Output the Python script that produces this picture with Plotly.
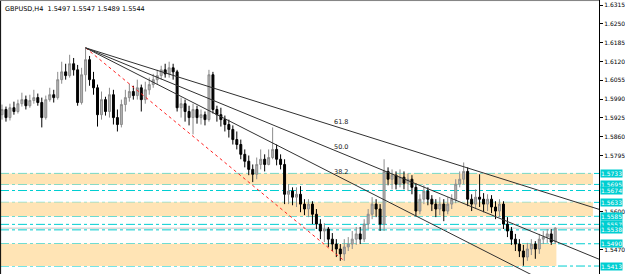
import plotly.graph_objects as go

# ---------------- data (GBPUSD H4) ----------------
bar_index = list(range(140))
open_ = [1.5936,1.5954,1.5926,1.5960,1.5947,1.5974,1.5988,1.5967,1.5985,1.5995,
         1.5978,1.5926,1.5988,1.6005,1.5995,1.6057,1.6084,1.6071,1.6112,1.6091,
         1.5978,1.6074,1.6126,1.6057,1.6029,1.5936,1.5988,1.5947,1.6005,1.5926,
         1.5902,1.5971,1.5995,1.6016,1.6002,1.6029,1.5988,1.6022,1.6040,1.6057,
         1.6071,1.6091,1.6077,1.6098,1.6084,1.5960,1.5974,1.5947,1.5926,1.5954,
         1.5926,1.5936,1.5919,1.6074,1.5954,1.5936,1.5919,1.5902,1.5885,1.5850,
         1.5833,1.5799,1.5775,1.5747,1.5730,1.5764,1.5782,1.5764,1.5788,1.5816,
         1.5782,1.5764,1.5661,1.5672,1.5651,1.5661,1.5627,1.5610,1.5627,1.5592,
         1.5558,1.5534,1.5541,1.5506,1.5489,1.5472,1.5455,1.5479,1.5489,1.5506,
         1.5524,1.5506,1.5558,1.5592,1.5627,1.5610,1.5558,1.5740,1.5713,1.5727,
         1.5696,1.5720,1.5699,1.5713,1.5685,1.5603,1.5644,1.5672,1.5644,1.5627,
         1.5610,1.5627,1.5603,1.5627,1.5644,1.5696,1.5713,1.5740,1.5644,1.5627,
         1.5651,1.5644,1.5627,1.5644,1.5617,1.5603,1.5627,1.5558,1.5534,1.5506,
         1.5489,1.5465,1.5444,1.5472,1.5489,1.5472,1.5506,1.5513,1.5524,1.5497]
high = [1.5971,1.5964,1.5974,1.5981,1.5988,1.6012,1.6002,1.6005,1.6022,1.6009,
        1.5995,1.6002,1.6029,1.6022,1.6084,1.6119,1.6112,1.6143,1.6132,1.6108,
        1.6098,1.6167,1.6139,1.6084,1.6040,1.6016,1.5998,1.6029,1.6022,1.5954,
        1.5988,1.6022,1.6043,1.6036,1.6057,1.6040,1.6050,1.6064,1.6077,1.6091,
        1.6105,1.6112,1.6119,1.6112,1.6091,1.5995,1.5988,1.5967,1.5974,1.5967,
        1.5954,1.5947,1.6091,1.6084,1.5967,1.5960,1.5933,1.5919,1.5899,1.5878,
        1.5850,1.5816,1.5795,1.5764,1.5788,1.5816,1.5799,1.5816,1.5892,1.5833,
        1.5799,1.5782,1.5696,1.5685,1.5685,1.5689,1.5644,1.5644,1.5637,1.5610,
        1.5575,1.5561,1.5548,1.5527,1.5506,1.5489,1.5506,1.5513,1.5534,1.5548,
        1.5548,1.5575,1.5610,1.5651,1.5644,1.5627,1.5782,1.5754,1.5747,1.5740,
        1.5747,1.5740,1.5733,1.5727,1.5699,1.5661,1.5692,1.5685,1.5658,1.5644,
        1.5651,1.5644,1.5651,1.5661,1.5713,1.5740,1.5771,1.5754,1.5661,1.5678,
        1.5730,1.5665,1.5661,1.5658,1.5637,1.5644,1.5637,1.5582,1.5548,1.5524,
        1.5506,1.5486,1.5493,1.5506,1.5499,1.5524,1.5534,1.5541,1.5541,1.5547]
low = [1.5919,1.5912,1.5916,1.5936,1.5940,1.5964,1.5954,1.5960,1.5974,1.5967,
       1.5892,1.5919,1.5981,1.5978,1.5988,1.6043,1.6057,1.6064,1.6071,1.5967,
       1.5971,1.6016,1.6036,1.6005,1.5895,1.5919,1.5933,1.5926,1.5902,1.5878,
       1.5892,1.5947,1.5981,1.5988,1.5988,1.5947,1.5974,1.6005,1.6029,1.6040,
       1.6057,1.6064,1.6064,1.6057,1.5947,1.5926,1.5912,1.5899,1.5868,1.5905,
       1.5902,1.5899,1.5912,1.5940,1.5912,1.5895,1.5878,1.5857,1.5833,1.5816,
       1.5782,1.5754,1.5727,1.5703,1.5713,1.5747,1.5740,1.5761,1.5782,1.5761,
       1.5747,1.5627,1.5627,1.5623,1.5617,1.5599,1.5589,1.5582,1.5558,1.5541,
       1.5506,1.5496,1.5479,1.5465,1.5444,1.5431,1.5431,1.5465,1.5472,1.5486,
       1.5489,1.5496,1.5541,1.5575,1.5582,1.5534,1.5534,1.5692,1.5678,1.5678,
       1.5685,1.5678,1.5672,1.5661,1.5585,1.5592,1.5627,1.5623,1.5603,1.5582,
       1.5589,1.5568,1.5592,1.5610,1.5630,1.5685,1.5696,1.5620,1.5603,1.5610,
       1.5617,1.5599,1.5603,1.5596,1.5575,1.5582,1.5541,1.5513,1.5486,1.5465,
       1.5444,1.5414,1.5431,1.5451,1.5438,1.5455,1.5489,1.5493,1.5486,1.5489]
close = [1.5954,1.5926,1.5960,1.5947,1.5974,1.5988,1.5967,1.5985,1.5995,1.5978,
         1.5926,1.5988,1.6005,1.5995,1.6057,1.6084,1.6071,1.6112,1.6091,1.5978,
         1.6074,1.6126,1.6057,1.6029,1.5936,1.5988,1.5947,1.6005,1.5926,1.5902,
         1.5971,1.5995,1.6016,1.6002,1.6029,1.5988,1.6022,1.6040,1.6057,1.6071,
         1.6091,1.6077,1.6098,1.6084,1.5960,1.5974,1.5947,1.5926,1.5954,1.5926,
         1.5936,1.5919,1.6074,1.5954,1.5936,1.5919,1.5902,1.5885,1.5850,1.5833,
         1.5799,1.5775,1.5747,1.5730,1.5764,1.5782,1.5764,1.5788,1.5816,1.5782,
         1.5764,1.5661,1.5672,1.5651,1.5661,1.5627,1.5610,1.5627,1.5592,1.5558,
         1.5534,1.5541,1.5506,1.5489,1.5472,1.5455,1.5479,1.5489,1.5506,1.5524,
         1.5506,1.5558,1.5592,1.5627,1.5610,1.5558,1.5740,1.5713,1.5727,1.5696,
         1.5720,1.5699,1.5713,1.5685,1.5603,1.5644,1.5672,1.5644,1.5627,1.5610,
         1.5627,1.5603,1.5627,1.5644,1.5696,1.5713,1.5740,1.5644,1.5627,1.5651,
         1.5644,1.5627,1.5644,1.5617,1.5603,1.5627,1.5558,1.5534,1.5506,1.5489,
         1.5465,1.5444,1.5472,1.5489,1.5472,1.5506,1.5513,1.5524,1.5496,1.5544]

level_prices = [1.5733, 1.5695, 1.5674, 1.5633, 1.5585, 1.5557, 1.5538, 1.5490, 1.5413]
level_labels = ["1.5733", "1.5695", "1.5674", "1.5633", "1.5585", "1.5557", "1.5538", "1.5490", "1.5413"]
zone_low = [1.5695, 1.5585, 1.5413]
zone_high = [1.5733, 1.5633, 1.5490]
zone_end = [148.5, 148.5, 139.3]
bid_price = 1.5544
# visible price-scale labels (others are hidden behind the level labels)
tick_vals = [1.6315, 1.6250, 1.6185, 1.6120, 1.6055, 1.5990, 1.5925, 1.5860,
             1.5795, 1.5600, 1.5470]
fib_ratios = [0.382, 0.5, 0.618]
fib_labels = ["38.2", "50.0", "61.8"]
fan_start, fan_end = 21, 86
header = "GBPUSD,H4  1.5497 1.5547 1.5489 1.5544"

X_MIN, X_MAX = -0.5, 150
Y_MIN, Y_MAX = 1.53855, 1.63323
CYAN = "#00CED1"
ZONE = "#FFE4B5"
FONT = "DejaVu Sans"

fig = go.Figure()

shapes = []
for lo, hi, xe in zip(zone_low, zone_high, zone_end):
    shapes.append(dict(type="rect", xref="x", yref="y", x0=X_MIN, x1=xe, y0=lo, y1=hi,
                       fillcolor=ZONE, line=dict(width=0), layer="below"))
for p in level_prices:
    shapes.append(dict(type="line", xref="paper", yref="y", x0=0, x1=1, y0=p, y1=p,
                       line=dict(color=CYAN, width=1, dash="dashdot"), layer="below"))
shapes.append(dict(type="line", xref="paper", yref="y", x0=0, x1=1, y0=bid_price, y1=bid_price,
                   line=dict(color="#C8C8C8", width=1), layer="below"))
# frame left / top
shapes.append(dict(type="line", xref="paper", yref="paper", x0=0.001, x1=0.001, y0=0, y1=1,
                   line=dict(color="#000000", width=1)))
shapes.append(dict(type="line", xref="paper", yref="paper", x0=0, x1=1, y0=0.998, y1=0.998,
                   line=dict(color="#808080", width=1)))

fig.add_trace(go.Candlestick(
    x=bar_index, open=open_, high=high, low=low, close=close,
    increasing=dict(line=dict(color="#8c8c8c", width=1), fillcolor="#b4b4b4"),
    decreasing=dict(line=dict(color="#000000", width=1), fillcolor="#000000"),
    whiskerwidth=0, showlegend=False, hoverinfo="skip"))

# Fibonacci fan
p0 = high[fan_start]
p1 = low[fan_end]
fig.add_trace(go.Scatter(x=[fan_start, fan_end], y=[p0, p1], mode="lines",
                         line=dict(color="#FF2020", width=1, dash="dot"),
                         showlegend=False, hoverinfo="skip"))
x_far = 160
annotations = []
for r, lab in zip(fib_ratios, fib_labels):
    lvl = p1 + r * (p0 - p1)
    y_far = p0 + (lvl - p0) * (x_far - fan_start) / (fan_end - fan_start)
    fig.add_trace(go.Scatter(x=[fan_start, x_far], y=[p0, y_far], mode="lines",
                             line=dict(color="#303030", width=1),
                             showlegend=False, hoverinfo="skip"))
    annotations.append(dict(x=fan_end - 0.8, y=lvl, xref="x", yref="y", text=lab,
                            showarrow=False, xanchor="center", yanchor="bottom", yshift=1,
                            font=dict(size=6.5, color="#202020", family=FONT)))

for p, lab in zip(level_prices, level_labels):
    annotations.append(dict(x=1, y=p, xref="paper", yref="y", text=lab, showarrow=False,
                            xanchor="left", yanchor="middle", xshift=1,
                            bgcolor=CYAN, borderpad=0,
                            font=dict(size=6, color="#FFFFFF", family=FONT)))

annotations.append(dict(x=0, y=1, xref="paper", yref="paper", text=header, showarrow=False,
                        xanchor="left", yanchor="top", xshift=3, yshift=-3,
                        font=dict(size=6.5, color="#000000", family=FONT)))

fig.update_layout(
    width=625, height=274,
    margin=dict(l=0, r=23, t=0, b=0),
    paper_bgcolor="#FFFFFF", plot_bgcolor="#FFFFFF",
    shapes=shapes, annotations=annotations,
    xaxis=dict(range=[X_MIN, X_MAX], showgrid=False, zeroline=False, showticklabels=False,
               rangeslider=dict(visible=False), showline=False, fixedrange=True),
    yaxis=dict(range=[Y_MIN, Y_MAX], side="right", showgrid=False, zeroline=False,
               tickvals=tick_vals, tickformat=".4f", ticks="outside", ticklen=3,
               tickcolor="#000000", showline=True, linecolor="#000000", linewidth=1,
               tickfont=dict(size=6, color="#000000", family=FONT)),
    font=dict(family=FONT),
)

fig.write_html("out.html")
